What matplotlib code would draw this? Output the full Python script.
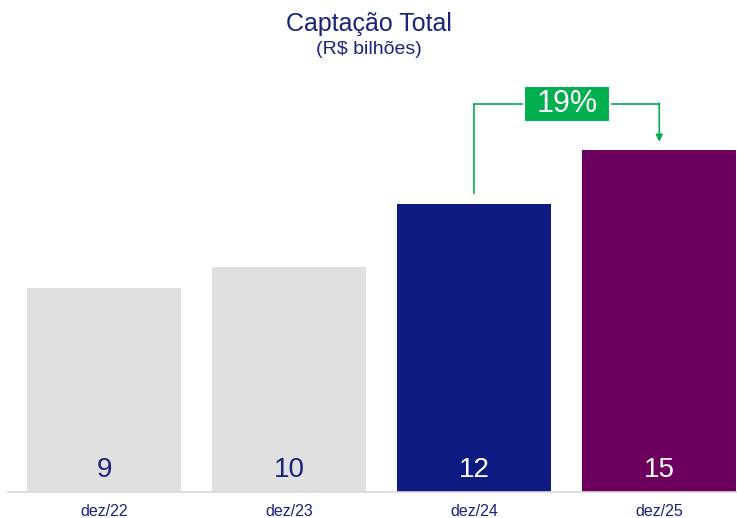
import matplotlib
matplotlib.use("Agg")
import matplotlib.pyplot as plt
from matplotlib.patches import Rectangle

categories = ["dez/22", "dez/23", "dez/24", "dez/25"]
values = [8.7, 9.6, 12.3, 14.6]
labels = ["9", "10", "12", "15"]
growth_label = "19%"

bar_colors = ["#E0E0E0", "#E0E0E0", "#0C1A82", "#6D005E"]
label_colors = ["#1A237E", "#1A237E", "white", "white"]
navy = "#1A237E"
green = "#00B050"

plt.rcParams['font.family'] = ['Liberation Sans', 'DejaVu Sans']

fig = plt.figure(figsize=(7.37, 5.18), dpi=100)
ax = fig.add_axes([8/737, 26/518, 729/737, 432/518])
x = list(range(len(categories)))
ax.bar(x, values, width=0.832, color=bar_colors, zorder=2)
ax.set_xlim(-0.519, 3.42)
ax.set_ylim(0, 18.44)

for xi, lab, c in zip(x, labels, label_colors):
    ax.text(xi, 0.95, lab, ha="center", va="center", fontsize=20, color=c)

for s in ["top", "right", "left"]:
    ax.spines[s].set_visible(False)
ax.spines["bottom"].set_color("#D9D9D9")
ax.spines["bottom"].set_linewidth(1.2)
ax.set_yticks([])
ax.set_xticks(x)
ax.set_xticklabels(categories, fontsize=11.5, color=navy)
ax.tick_params(axis="x", length=0, pad=9)

# growth bracket
y_top = 16.57
ax.plot([2, 2], [values[2] + 0.45, y_top], color=green, lw=1.2, zorder=3)
ax.plot([2, 3], [y_top, y_top], color=green, lw=1.2, zorder=3)
ax.annotate("", xy=(3, values[3] + 0.35), xytext=(3, y_top + 0.03),
            arrowprops=dict(arrowstyle="-|>", color=green, lw=1.2,
                            mutation_scale=10, shrinkA=0, shrinkB=0), zorder=3)
bw, bh = 0.465, 1.54
ax.add_patch(Rectangle((2.5 - bw/2, y_top - bh/2), bw, bh, fc=green,
                       ec="white", lw=1.5, zorder=4))
ax.text(2.5, y_top, growth_label, ha="center", va="center", fontsize=22,
        color="white", zorder=5)

fig.text(0.5, 1 - 24/518, "Captação Total", ha="center", va="center",
         fontsize=18, color=navy)
fig.text(0.5, 1 - 50/518, "(R$ bilhões)", ha="center", va="center",
         fontsize=14, color=navy)

fig.savefig("out.png", dpi=100)
